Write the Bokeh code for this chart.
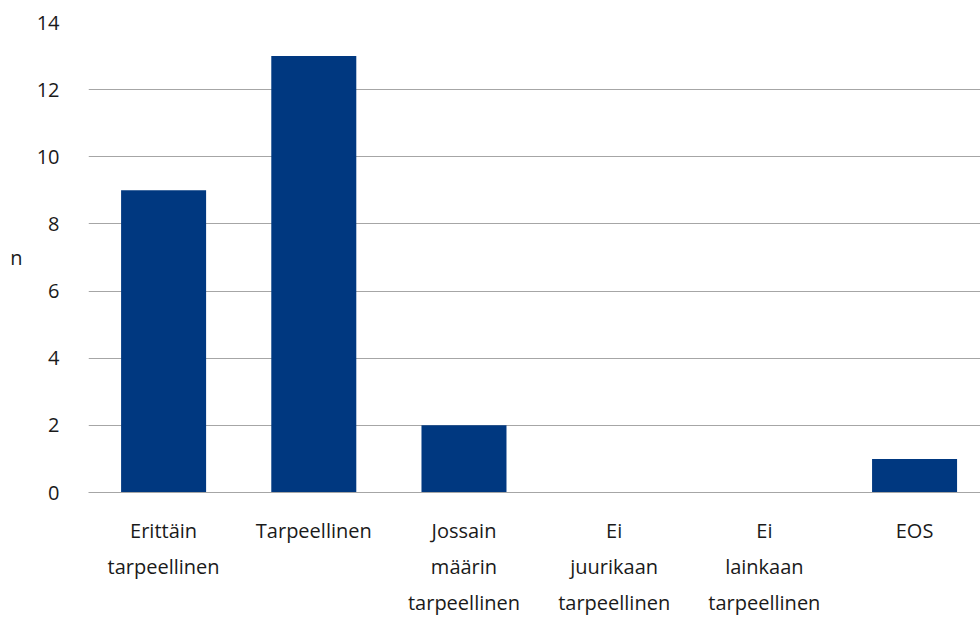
from bokeh.plotting import figure
from bokeh.models import Range1d, FixedTicker, ColumnDataSource
from bokeh.embed import file_html
from bokeh.resources import INLINE

categories = ["Erittäin\ntarpeellinen", "Tarpeellinen", "Jossain\nmäärin\ntarpeellinen",
              "Ei\njuurikaan\ntarpeellinen", "Ei\nlainkaan\ntarpeellinen", "EOS"]
values = [9, 13, 2, 0, 0, 1]
y_ticks = [0, 2, 4, 6, 8, 10, 12, 14]

xs = list(range(len(categories)))
src = ColumnDataSource(dict(x=xs, top=values))

FONT = "Open Sans"
TXT = "#1a1a1a"
GRID = "#a6a6a6"

p = figure(width=980, height=619, output_backend="svg", toolbar_location=None,
           x_range=Range1d(-0.5, 5.439), y_range=Range1d(0, 14),
           min_border_left=88, min_border_right=0, min_border_top=22, min_border_bottom=127)
p.outline_line_color = None
p.background_fill_color = "white"

p.vbar(x="x", top="top", bottom=0, width=0.566, source=src, fill_color="#003880", line_color=None)

p.xgrid.grid_line_color = None
p.ygrid.grid_line_color = GRID
p.ygrid.grid_line_width = 1
p.ygrid.ticker = FixedTicker(ticks=y_ticks)

p.yaxis.ticker = FixedTicker(ticks=y_ticks)
p.yaxis.axis_line_color = None
p.yaxis.major_tick_line_color = None
p.yaxis.minor_tick_line_color = None
p.yaxis.major_label_standoff = 23
p.yaxis.major_label_text_font = FONT
p.yaxis.major_label_text_font_size = "20px"
p.yaxis.major_label_text_color = TXT
p.yaxis.axis_label = "n"
p.yaxis.axis_label_orientation = "horizontal"
p.yaxis.axis_label_text_font = FONT
p.yaxis.axis_label_text_font_size = "20px"
p.yaxis.axis_label_text_font_style = "normal"
p.yaxis.axis_label_text_color = TXT
p.yaxis.axis_label_standoff = 11

p.xaxis.ticker = FixedTicker(ticks=xs)
p.xaxis.major_label_overrides = {i: c for i, c in zip(xs, categories)}
p.xaxis.axis_line_color = GRID
p.xaxis.axis_line_width = 1
p.xaxis.major_tick_line_color = None
p.xaxis.minor_tick_line_color = None
p.xaxis.major_label_standoff = 18
p.xaxis.major_label_text_font = FONT
p.xaxis.major_label_text_font_size = "20px"
p.xaxis.major_label_text_color = TXT
p.xaxis.major_label_text_line_height = 1.34

open("out.html", "w").write(file_html(p, INLINE))
